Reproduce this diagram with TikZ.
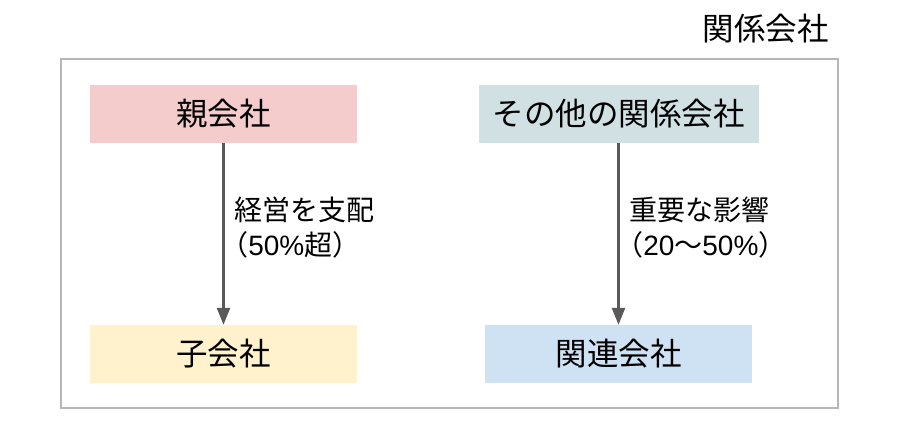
\documentclass[tikz,border=0pt]{standalone}
\usepackage{fontspec}
\setmainfont{Noto Sans CJK JP}
\newfontfamily\latinfont{Liberation Sans}
\usetikzlibrary{arrows.meta}
\definecolor{cpink}{HTML}{F4CCCC}
\definecolor{cteal}{HTML}{D0E0E3}
\definecolor{cyellow}{HTML}{FFF2CC}
\definecolor{cblue}{HTML}{CFE2F3}
\definecolor{cframe}{HTML}{B7B7B7}
\definecolor{carrow}{HTML}{595959}
\newcommand{\lparen}{\kern-14pt（}
\newcommand{\latn}[1]{{\latinfont #1}}
\tikzset{
  company/.style={rectangle, inner sep=0pt, minimum height=57.5pt,
    font=\fontsize{31.5}{36}\selectfont, text=black},
  rel/.style={draw=carrow, line width=2.5pt,
    -{Triangle[width=13pt,length=17pt]}},
  rellabel/.style={anchor=west, inner sep=0pt, align=left, xshift=9.5pt,
    font=\fontsize{28}{35}\selectfont, text=black},
  frame/.style={draw=cframe, line width=2pt, rectangle, inner sep=0pt}
}
\begin{document}
\begin{tikzpicture}[x=1pt,y=-1pt]
\useasboundingbox (0,0) rectangle (900,429);
\node[frame, minimum width=777pt, minimum height=349pt] (frame) at (449.5,233.5) {};
\node[inner sep=0pt, font=\fontsize{31.5}{36}\selectfont] (title) at (765.5,29) {関係会社};
\node[company, fill=cpink, minimum width=267pt] (parent) at (223.5,114) {親会社};
\node[company, fill=cyellow, minimum width=267pt, minimum height=58pt] (child) at (223.5,354) {子会社};
\node[company, fill=cteal, minimum width=280pt] (other) at (618.5,114) {その他の関係会社};
\node[company, fill=cblue, minimum width=267pt, minimum height=58pt] (assoc) at (618.5,354) {関連会社};
\draw[rel] (parent.south) -- node[rellabel, pos=0.465] (l1) {経営を支配\\\lparen\latn{50\%}超）} (child.north);
\draw[rel] (other.south) -- node[rellabel, pos=0.465] (l2) {重要な影響\\\lparen\latn{20}～\latn{50\%}）} (assoc.north);
\end{tikzpicture}
\end{document}
